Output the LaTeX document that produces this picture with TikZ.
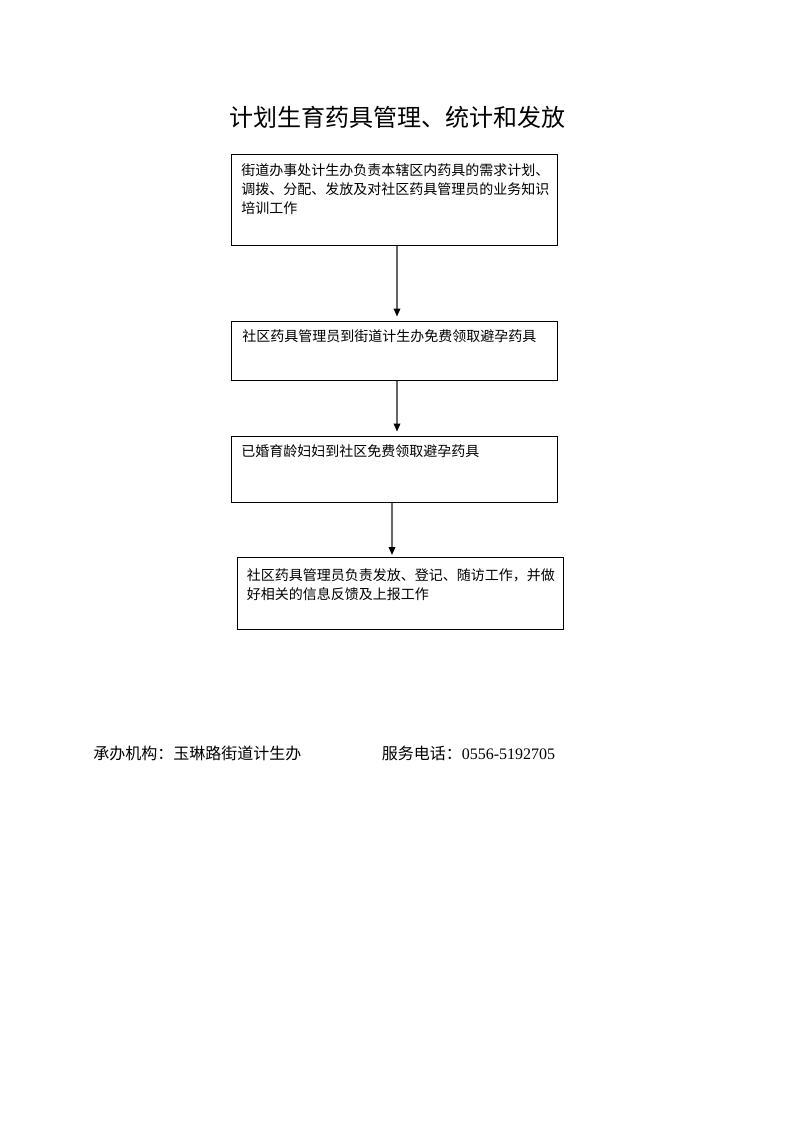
\documentclass[tikz,border=0pt]{standalone}
\usepackage{fontspec}
\setmainfont{Liberation Serif}
\newfontfamily\cjk{Noto Sans CJK SC}
\usetikzlibrary{arrows.meta,positioning}
\tikzset{
  box/.style   = {draw, line width=0.75pt, anchor=north west, inner sep=0pt},
  txt/.style   = {anchor=north west, inner sep=0pt, align=left,
                  font=\cjk\fontsize{10.5}{14.3}\selectfont},
  flow/.style  = {draw=gray!80!black, line width=1pt,
                  -{Triangle[length=6pt,width=5pt,color=black]}},
}
\begin{document}
\begin{tikzpicture}[x=0.75pt,y=-0.75pt]
  \useasboundingbox (0,0) rectangle (793,1122);
  % title
  \node[font=\cjk\fontsize{18}{20}\selectfont] (title) at (397,117)
      {计划生育药具管理、统计和发放};
  % boxes
  \node[box, minimum width=326*0.75pt, minimum height=91*0.75pt] (box1) at (231,154) {};
  \node[box, minimum width=326*0.75pt, minimum height=59*0.75pt] (box2) at (231,320.5) {};
  \node[box, minimum width=326*0.75pt, minimum height=66*0.75pt] (box3) at (231,435.5) {};
  \node[box, minimum width=326*0.75pt, minimum height=72*0.75pt] (box4) at (236.5,557) {};
  \node[txt] (t1) at (241,163)
      {街道办事处计生办负责本辖区内药具的需求计划、\\调拨、分配、发放及对社区药具管理员的业务知识\\培训工作};
  \node[txt] (t2) at (242,329) {社区药具管理员到街道计生办免费领取避孕药具};
  \node[txt] (t3) at (241,444.5) {已婚育龄妇妇到社区免费领取避孕药具};
  \node[txt] (t4) at (246.5,568) {社区药具管理员负责发放、登记、随访工作，并做\\好相关的信息反馈及上报工作};
  % connectors
  \draw[flow, shorten >=3pt] (box1.south -| 397,0) -- (box2.north -| 397,0);
  \draw[flow, shorten >=3pt] (box2.south -| 397,0) -- (box3.north -| 397,0);
  \draw[flow, shorten >=1.5pt] (box3.south -| 392,0) -- (box4.north -| 392,0);
  % footer
  \node[anchor=west, inner sep=0pt, font=\fontsize{12}{14}\selectfont] (org) at (93,753)
      {\cjk 承办机构：玉琳路街道计生办};
  \node[anchor=west, inner sep=0pt, font=\fontsize{12}{14}\selectfont] (tel) at (381.5,753)
      {\cjk 服务电话：\normalfont 0556-5192705};
\end{tikzpicture}
\end{document}
